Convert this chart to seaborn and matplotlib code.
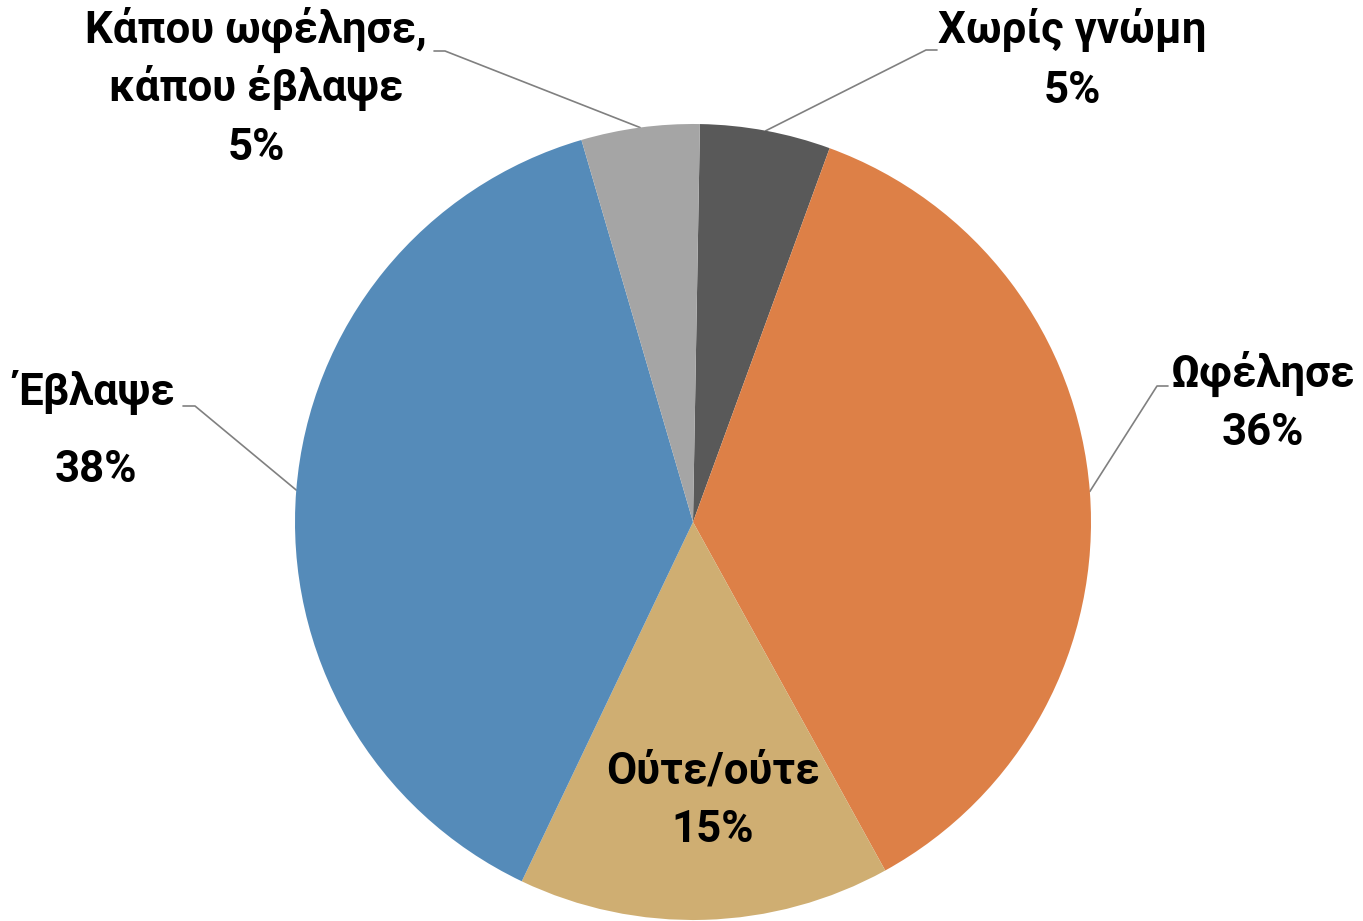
import numpy as np
import matplotlib
matplotlib.use("Agg")
import matplotlib.pyplot as plt
import seaborn as sns

# slice data (clockwise from the top)
categories = ["Χωρίς γνώμη", "Ωφέλησε", "Ούτε/ούτε", "Έβλαψε", "Κάπου ωφέλησε,\nκάπου έβλαψε"]
values = [5.3, 36.4, 15.1, 38.4, 4.8]
colors = ["#595959", "#DD8047", "#CFAE72", "#558BB9", "#A5A5A5"]

sns.set_theme(style="white")
plt.rcParams['font.family'] = ['Roboto', 'DejaVu Sans']

W, H = 1363, 921
fig = plt.figure(figsize=(W / 100, H / 100), dpi=100)
ax = fig.add_axes([0, 0, 1, 1])

cx, cy, r = 693, H - 522, 398
wedges, _ = ax.pie(values, colors=colors, startangle=89, counterclock=False,
                   center=(cx, cy), radius=r, frame=False,
                   wedgeprops=dict(linewidth=0))
ax.set_xlim(0, W)
ax.set_ylim(0, H)
ax.set_aspect('equal')
ax.axis('off')

# label layout in pixel coords from top-left: (x center, name baselines, pct baseline, leader elbow)
layout = [
    (1072, [43], 103, [(937, 50), (926, 50)]),
    (1263, [387], 445, [(1168, 386), (1157, 386)]),
    (713, [783], 842, None),
    (96, [405], 482, [(183, 406), (195, 406)]),
    (256, [43, 101], 160, [(434, 51), (445, 51)]),
]

fs = 31.5
for w, name, v, (x, name_bl, pct_bl, leader) in zip(wedges, categories, values, layout):
    for line, bl in zip(name.split("\n"), name_bl):
        ax.text(x, H - bl, line, ha='center', va='baseline', fontsize=fs,
                fontweight='bold', color='black')
    ax.text(x, H - pct_bl, f"{round(v)}%", ha='center', va='baseline', fontsize=fs,
            fontweight='bold', color='black')
    if leader is not None:
        mid = np.deg2rad((w.theta1 + w.theta2) / 2)
        ex, ey = cx + r * np.cos(mid), cy + r * np.sin(mid)
        xs = [p[0] for p in leader] + [ex]
        ys = [H - p[1] for p in leader] + [ey]
        ax.plot(xs, ys, color="#808080", linewidth=1.2, zorder=0)

fig.savefig("out.png", dpi=100)
